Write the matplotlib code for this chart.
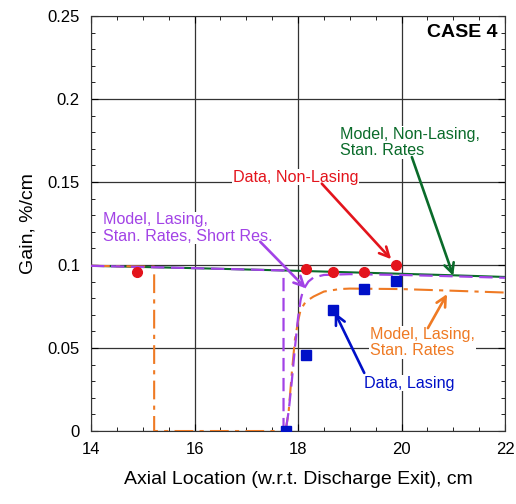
import numpy as np
import matplotlib.pyplot as plt
from matplotlib.ticker import MultipleLocator

plt.rcParams['font.family'] = ['Liberation Sans', 'DejaVu Sans']

# measured data
data_nl_x = [14.88, 18.15, 18.68, 19.28, 19.89]
data_nl_y = [0.0955, 0.0977, 0.0957, 0.0957, 0.1003]
data_l_x = [17.76, 18.15, 18.68, 19.28, 19.89]
data_l_y = [0.0, 0.0457, 0.0730, 0.0858, 0.0903]

# model, non-lasing, standard rates
nl_x = [14.0, 15.0, 16.0, 17.0, 18.0, 19.0, 20.0, 21.0, 22.0]
nl_y = [0.0995, 0.0988, 0.0981, 0.0973, 0.0965, 0.0956, 0.0947, 0.0938, 0.0928]

# model, lasing, standard rates, short resonator
sr_x = [14.0, 15.0, 16.0, 17.0, 17.72, 17.72, 17.76, 17.82, 17.88, 17.94,
        18.0, 18.05, 18.1, 18.2, 18.3, 18.5, 19.0, 20.0, 21.0, 22.0]
sr_y = [0.0995, 0.0988, 0.0981, 0.0973, 0.0967, 0.0, 0.0, 0.012, 0.030, 0.050,
        0.068, 0.079, 0.085, 0.090, 0.0925, 0.0940, 0.0945, 0.0940, 0.0932, 0.0923]

# model, lasing, standard rates
ls_x = [14.0, 15.22, 15.22, 16.0, 17.0, 17.76, 17.82, 17.88, 17.94, 18.0,
        18.05, 18.15, 18.3, 18.5, 18.8, 19.0, 20.0, 21.0, 22.0]
ls_y = [0.0995, 0.0990, 0.0, 0.0, 0.0, 0.0, 0.012, 0.035, 0.055, 0.066,
        0.073, 0.078, 0.081, 0.084, 0.0855, 0.0858, 0.0855, 0.0845, 0.0834]

red = '#e3141c'
blue = '#0010c8'
green = '#0a6b2a'
purple = '#a243e6'
orange = '#ef7a24'

fig = plt.figure(figsize=(5.16, 5.04), dpi=100, facecolor='white')
ax = fig.add_axes([0.1764, 0.1448, 0.8023, 0.8235])

ax.plot(nl_x, nl_y, color=green, lw=1.5, zorder=3)
ax.plot(sr_x, sr_y, color=purple, lw=1.6, dashes=(6, 3), zorder=4)
ax.plot(ls_x, ls_y, color=orange, lw=1.5, dashes=(9, 3, 2, 3), zorder=3)
ax.plot(data_nl_x, data_nl_y, 'o', color=red, ms=7, zorder=5)
ax.plot(data_l_x, data_l_y, 's', color=blue, ms=7, zorder=5)

ax.set_xlim(14, 22)
ax.set_ylim(0, 0.25)
ax.xaxis.set_major_locator(MultipleLocator(2))
ax.xaxis.set_minor_locator(MultipleLocator(0.5))
ax.yaxis.set_major_locator(MultipleLocator(0.05))
ax.yaxis.set_minor_locator(MultipleLocator(0.01))
ax.set_yticks([0, 0.05, 0.1, 0.15, 0.2, 0.25])
ax.set_yticklabels(['0', '0.05', '0.1', '0.15', '0.2', '0.25'])
ax.tick_params(which='both', direction='in', top=True, right=True, labelsize=12)
ax.tick_params(axis='x', which='major', length=5, pad=8)
ax.tick_params(axis='y', which='major', length=5, pad=8)
ax.tick_params(which='minor', length=3)
ax.grid(True, which='major', color='#333333', lw=0.9)
for s in ax.spines.values():
    s.set_color('#333333')

ax.set_xlabel('Axial Location (w.r.t. Discharge Exit), cm', fontsize=14, labelpad=10)
ax.set_ylabel('Gain, %/cm', fontsize=14, labelpad=8)

bb = dict(facecolor='white', edgecolor='none', pad=0.5)

ax.text(21.85, 0.2398, 'CASE 4', fontsize=14, fontweight='bold', ha='right', va='center', zorder=6)

def note(text, tx, ty, start, tip, c):
    ax.text(tx, ty, text, color=c, fontsize=11.6, ha='left', va='center', bbox=bb,
            linespacing=1.1, zorder=6)
    ax.annotate('', xy=tip, xytext=start,
                arrowprops=dict(arrowstyle='->,head_length=0.5,head_width=0.25', color=c, lw=1.9,
                                mutation_scale=14, shrinkA=0, shrinkB=0), zorder=7)

note('Model, Non-Lasing,\nStan. Rates', 18.81, 0.1737, (20.2, 0.165), (21.0, 0.0935), green)
note('Data, Non-Lasing', 16.74, 0.153, (18.46, 0.149), (19.8, 0.1035), red)
note('Model, Lasing,\nStan. Rates, Short Res.', 14.23, 0.1223, (17.27, 0.114), (18.15, 0.086), purple)
note('Model, Lasing,\nStan. Rates', 19.39, 0.0533, (20.51, 0.062), (20.88, 0.0825), orange)
note('Data, Lasing', 19.28, 0.0289, (19.28, 0.035), (18.71, 0.0715), blue)

fig.savefig('out.png', dpi=100, facecolor='white')
